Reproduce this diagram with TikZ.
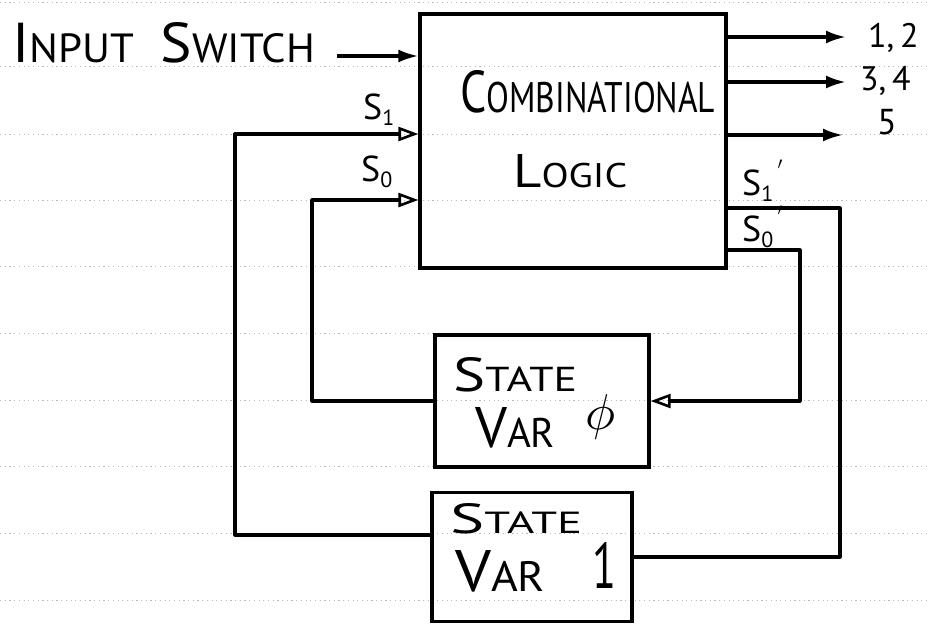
\documentclass[tikz,border=0pt]{standalone}
\usepackage{fontspec}
\usepackage{graphicx}
\setmainfont{PT Sans}
\usetikzlibrary{arrows.meta}
\newcommand\hsc[2]{{\fontsize{40}{40}\selectfont #1}{\fontsize{29}{29}\selectfont #2}}
\newcommand\hw[3]{\resizebox{#1}{#2}{#3}}
\newcommand\slbl[3]{{\fontsize{36}{36}\selectfont S}\raisebox{-6pt}{\fontsize{22}{22}\selectfont #1}\raisebox{16pt}{\fontsize{26}{26}\selectfont #2}#3}
\tikzset{
  box/.style={draw, line width=3.2pt, rectangle, inner sep=0pt},
  wire/.style={line width=3.2pt, line join=round},
  fillarrow/.style={wire, -{Latex[length=20pt,width=13pt]}},
  openarrow/.style={wire, -{Triangle[open,length=20pt,width=14pt,line width=2.6pt]}},
  txt/.style={inner sep=0pt, anchor=base west},
  ruled/.style={gray!55, line width=0.7pt, dash pattern=on 1.2pt off 3.5pt}
}
\begin{document}
\begin{tikzpicture}[x=1pt,y=-1pt]
\useasboundingbox[fill=white] (0,0) rectangle (929,627);
% ruled paper lines
\foreach \yy in {2,66,134,200,266,333,400,466,533,600}
  \draw[ruled] (0,\yy) -- (929,\yy);
% boxes
\node[box, minimum width=306pt, minimum height=254pt] (comb) at (573,141) {};
\node[box, minimum width=214pt, minimum height=132pt] (sv0) at (542,401) {};
\node[box, minimum width=200pt, minimum height=129pt] (sv1) at (532,557) {};
% box texts
\node[txt] (tcomb) at (460,112) {\hw{255pt}{42pt}{\hsc{C}{OMBINATIONAL}}};
\node[txt] (tlogic) at (513,187) {\hw{114pt}{33pt}{\hsc{L}{OGIC}}};
\node[txt] (tst0) at (453,391) {\hw{124pt}{34pt}{\hsc{S}{TATE}}};
\node[txt] (tvar0) at (475,447) {\hw{80pt}{40pt}{\hsc{V}{AR}}};
\node[inner sep=0pt] (tphi) at (600,417) {\resizebox{30pt}{!}{$\phi$}};
\node[txt] (tst1) at (450,533) {\hw{132pt}{30pt}{\hsc{S}{TATE}}};
\node[txt] (tvar1) at (455,591) {\hw{90pt}{41pt}{\hsc{V}{AR}}};
\node[txt] (tone) at (592,588) {\hw{24pt}{46pt}{\fontsize{40}{40}\selectfont 1}};
% input label
\node[txt] (tin) at (12,62) {\hw{303pt}{40pt}{\hsc{I}{NPUT}\hspace{18pt}\hsc{S}{WITCH}}};
% signal labels
\node[txt] (ls1) at (363,119) {\slbl{1}{}{}};
\node[txt] (ls0) at (361,181) {\slbl{0}{}{}};
\node[txt] (ls1p) at (742,195) {\slbl{1}{\,$'$}{}};
\node[txt] (ls0p) at (742,241) {\slbl{0}{\,$'$}{}};
% output labels
\node[txt] (o12) at (868,47) {\fontsize{34}{34}\selectfont 1,\,2};
\node[txt] (o34) at (860,90) {\fontsize{34}{34}\selectfont 3,\,4};
\node[txt] (o5) at (877,134) {\fontsize{36}{36}\selectfont 5};
% coordinates
\coordinate (cin) at (337,56);
\coordinate (c1) at (235,134);
\coordinate (c1b) at (235,535);
\coordinate (c0) at (312,200);
\coordinate (q1) at (840,208);
\coordinate (q0) at (800,250);
\coordinate (out1) at (846,37);
\coordinate (out2) at (846,82);
\coordinate (out3) at (843,135);
% connectors
\draw[fillarrow] (cin) -- (cin -| comb.west);
\draw[openarrow] (c1b -| sv1.west) -- (c1b) -- (c1) -- (c1 -| comb.west);
\draw[openarrow] (sv0.west) -| (c0) -- (c0 -| comb.west);
\draw[wire] (q1 -| comb.east) -- (q1) |- (sv1.east);
\draw[openarrow] (q0 -| comb.east) -- (q0) |- (sv0.east);
\draw[fillarrow] (out1 -| comb.east) -- (out1);
\draw[fillarrow] (out2 -| comb.east) -- (out2);
\draw[fillarrow] (out3 -| comb.east) -- (out3);
\end{tikzpicture}
\end{document}
